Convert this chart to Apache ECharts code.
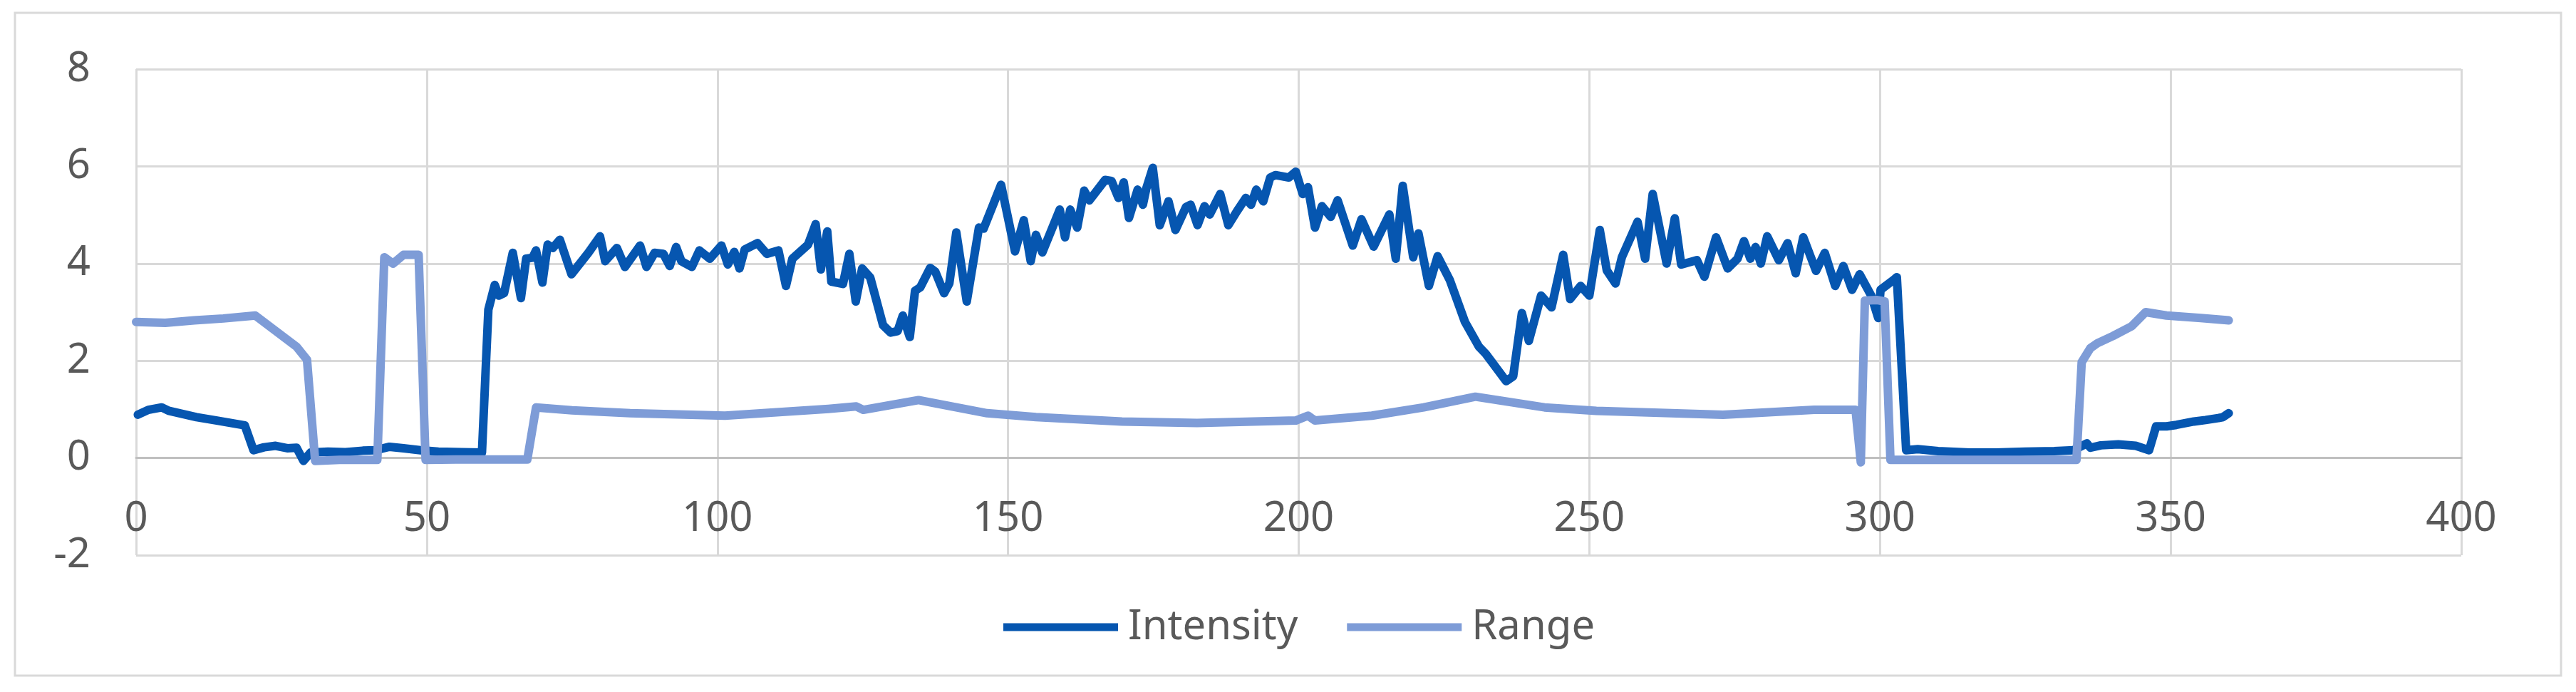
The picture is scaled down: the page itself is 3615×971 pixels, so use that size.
<!DOCTYPE html>
<html>
<head>
<meta charset="utf-8">
<script src="https://cdn.jsdelivr.net/npm/echarts@6/dist/echarts.min.js"></script>
<style>
  html, body { margin: 0; padding: 0; background: #fff; }
  #chart { width: 3615px; height: 971px; }
</style>
</head>
<body>
<div id="chart"></div>
<script>
// values
var intensityX = [
    0.3, 2.1, 4.4, 5.6, 10.4, 13.9, 18.7, 20.2, 22, 24, 26, 27.6, 28.8, 30, 33, 36, 39, 41.2, 43.6, 46, 48.9, 52, 56, 59.5,
    60.6, 61.7, 62.4, 63.3, 64.8, 66.2, 67.1, 68.2, 68.8, 69.9, 70.8, 71.7, 72.9, 74.9, 77.8, 79.8, 80.7, 82.7, 84.1, 86.7,
    87.8, 89.2, 90.7, 91.8, 92.9, 93.8, 95.6, 96.9, 98.7, 100.7, 101.8, 102.9, 103.8, 104.7, 106.9, 108.5, 110.5, 111.8, 112.9, 115.6,
    116.9, 117.8, 118.9, 119.6, 121.6, 122.7, 123.8, 124.9, 126.3, 128.5, 129.8,
    131, 131.9, 133.1, 134, 134.9, 136.6, 137.5, 139, 139.9, 141.1, 142.9, 145, 145.8, 148.8, 151.2, 152.7, 153.9, 154.8, 155.9, 158.9,
    159.8, 160.7, 161.9, 163.1, 164, 166.7, 167.8, 169, 169.9, 170.8, 172.3, 173.2, 173.8, 174.9, 176.1, 177.6, 178.8, 180.6, 181.4, 182.6,
    183.8, 184.7, 186.5, 187.9, 189.4, 190.9, 191.8, 192.7, 193.9, 195.1, 196, 198.3, 199.5, 200.7, 201.6, 202.8, 204, 205.5, 206.7, 209.3,
    210.8, 212.9, 215.6, 216.7, 217.9, 219.7, 220.6, 222.4, 223.9, 226, 228.6, 231, 232.2, 235.7, 236.9, 238.4, 239.6, 241.7, 243.5, 245.5,
    246.7, 248.5, 250, 251.8, 253, 254.5, 255.6,
    258.3, 259.6, 260.9, 263.3, 264.7, 265.8, 268.5, 269.8, 271.8, 273.8, 275.5, 276.6, 277.7, 278.6, 279.5, 280.6, 282.6, 284.1, 285.5, 286.8,
    289.0, 290.5, 292.3, 293.7, 295.2, 296.5, 298.5, 299.7, 300.1, 302.3, 302.9,
    304.5, 306.5, 310, 315.4, 320, 325, 330, 333.3, 335.6, 336.2, 338, 341, 344, 346.3, 347.5, 349.3, 351, 354, 356, 358.2, 359, 360
];
var intensityY = [
    0.89, 0.99, 1.04, 0.97, 0.84, 0.77, 0.67, 0.16, 0.22, 0.25, 0.2, 0.21, -0.06, 0.11, 0.13, 0.12, 0.15, 0.16, 0.23, 0.2, 0.16, 0.13, 0.12, 0.11,
    3.05, 3.56, 3.34, 3.39, 4.22, 3.29, 4.10, 4.12, 4.27, 3.61, 4.39, 4.32, 4.49, 3.78, 4.22, 4.56, 4.05, 4.32, 3.93, 4.37,
    3.93, 4.22, 4.20, 3.95, 4.34, 4.05, 3.93, 4.27, 4.10, 4.37, 3.98, 4.24, 3.90, 4.29, 4.42, 4.20, 4.27, 3.54, 4.10, 4.39,
    4.81, 3.88, 4.66, 3.63, 3.58, 4.20, 3.22, 3.90, 3.71, 2.73, 2.58,
    2.61, 2.93, 2.49, 3.44, 3.51, 3.91, 3.83, 3.39, 3.59, 4.64, 3.22, 4.74, 4.72, 5.62, 4.25, 4.89, 4.05, 4.59, 4.23, 5.11,
    4.54, 5.11, 4.74, 5.50, 5.30, 5.72, 5.70, 5.35, 5.67, 4.94, 5.52, 5.21, 5.55, 5.97, 4.79, 5.28, 4.69, 5.16, 5.21, 4.79,
    5.18, 5.01, 5.43, 4.79, 5.08, 5.35, 5.21, 5.52, 5.28, 5.77, 5.82, 5.77, 5.89, 5.43, 5.57, 4.74, 5.18, 4.96, 5.30, 4.37,
    4.91, 4.35, 5.01, 4.10, 5.60, 4.13, 4.62, 3.54, 4.15, 3.66, 2.80, 2.29, 2.14, 1.58, 1.68, 2.98, 2.41, 3.34, 3.10, 4.18,
    3.27, 3.54, 3.34, 4.69, 3.86, 3.59, 4.13,
    4.86, 4.10, 5.43, 4.0, 4.93, 3.98, 4.07, 3.73, 4.54, 3.90, 4.10, 4.46, 4.10, 4.34, 4.0, 4.56, 4.07, 4.42, 3.80, 4.54,
    3.85, 4.22, 3.54, 3.95, 3.46, 3.78, 3.34, 2.88, 3.46, 3.66, 3.72,
    0.16, 0.18, 0.14, 0.11, 0.11, 0.13, 0.14, 0.16, 0.30, 0.21, 0.26, 0.28, 0.25, 0.16, 0.65, 0.65, 0.68, 0.75, 0.78, 0.82, 0.84, 0.92
];

var rangeX = [0, 5, 10, 15, 20.5, 27.6, 29.4, 30.8, 35, 41.5, 42.7, 44.2, 46, 48.6, 49.8, 55, 60, 67.3,
    68.8, 75, 85, 101.3, 119.1, 123.9, 125.1, 134.6, 146.4, 154.8, 169.6, 182.5, 199.5, 201.6, 202.8,
    212.6, 221.5, 230.4, 242.3, 251.2, 273, 288.7, 295.8, 296.7, 297.4, 299.4, 300.8, 301.8, 333.8,
    334.7, 336.2, 337.4, 340.1, 343.3, 345.7, 349.3, 355.2, 360];
var rangeY = [2.80, 2.78, 2.83, 2.87, 2.93, 2.29, 2.02, -0.06, -0.04, -0.04, 4.13, 4.0, 4.18, 4.18, -0.04, -0.03, -0.03, -0.03,
    1.04, 0.98, 0.92, 0.87, 1.01, 1.06, 0.99, 1.19, 0.92, 0.84, 0.75, 0.72, 0.77, 0.87, 0.77,
    0.87, 1.04, 1.26, 1.04, 0.97, 0.89, 0.99, 0.99, -0.09, 3.24, 3.25, 3.22, -0.04, -0.04,
    1.97, 2.26, 2.36, 2.51, 2.71, 3.0, 2.93, 2.88, 2.83];

function pairs(xs, ys) {
    var out = [];
    for (var i = 0; i < xs.length; i++) {
        out.push([xs[i], ys[i]]);
    }
    return out;
}

var gridColor = '#D9D9D9';
var textColor = '#595959';

var chart = echarts.init(document.getElementById('chart'));
var option = {
    animation: false,
    textStyle: { fontFamily: 'Noto Sans' },
    graphic: [{
        type: 'rect',
        shape: { x: 21, y: 18, width: 3573, height: 930 },
        style: { fill: 'none', stroke: gridColor, lineWidth: 3 }
    }],
    grid: { left: 191, right: 161, top: 97, bottom: 192 },
    legend: {
        data: ['Intensity', 'Range'],
        left: 1403,
        top: 846,
        icon: 'rect',
        itemWidth: 161,
        itemHeight: 11,
        itemGap: 69,
        textStyle: { fontSize: 58, color: textColor, padding: [0, 0, 0, 9] }
    },
    xAxis: {
        type: 'value',
        min: 0,
        max: 400,
        interval: 50,
        axisLine: { onZero: true, lineStyle: { color: '#BFBFBF', width: 3 } },
        axisTick: { show: false },
        // labels sit just under the zero line, inside the plot
        axisLabel: { fontSize: 58, color: textColor, margin: -80 },
        splitLine: { show: true, lineStyle: { color: gridColor, width: 3 } }
    },
    yAxis: {
        type: 'value',
        min: -2,
        max: 8,
        interval: 2,
        axisLine: { show: false },
        axisTick: { show: false },
        axisLabel: { fontSize: 58, color: textColor, margin: 64 },
        splitLine: { show: true, lineStyle: { color: gridColor, width: 3 } }
    },
    series: [
        {
            name: 'Intensity',
            type: 'line',
            symbol: 'none',
            color: '#0656B0',
            lineStyle: { width: 12, color: '#0656B0', cap: 'round', join: 'round' },
            data: pairs(intensityX, intensityY)
        },
        {
            name: 'Range',
            type: 'line',
            symbol: 'none',
            color: '#7E9CD7',
            lineStyle: { width: 12, color: '#7E9CD7', cap: 'round', join: 'round' },
            data: pairs(rangeX, rangeY)
        }
    ]
};
chart.setOption(option);
</script>
</body>
</html>
